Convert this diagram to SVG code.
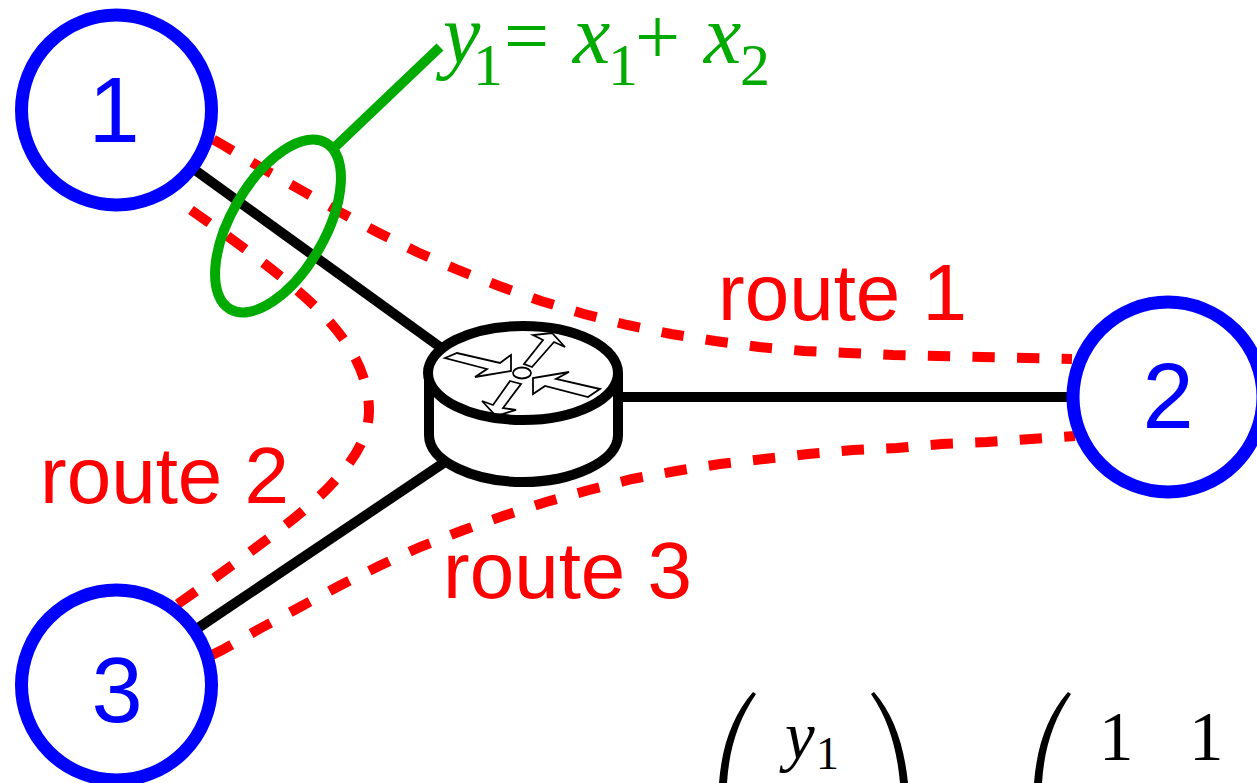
<svg xmlns="http://www.w3.org/2000/svg" width="1257" height="783" viewBox="0 0 1257 783">
<style>
.link{stroke:#000;stroke-width:10;fill:none}
.route{stroke:#f00;stroke-width:10;fill:none;stroke-dasharray:22.300 22.300}
.node{fill:#fff;stroke:#00f;stroke-width:13}
.num{font:92px "Liberation Sans",Arial,sans-serif;fill:#00f;text-anchor:middle}
.rl{font:80px "Liberation Sans",Arial,sans-serif;fill:#f00}
.gi{font:italic 84px "Liberation Serif","Times New Roman",serif;fill:#0a0}
.gs{font:60px "Liberation Serif","Times New Roman",serif;fill:#0a0}
.gm{font:80px "Liberation Serif","Times New Roman",serif;fill:#0a0}
.mi{font:italic 67px "Liberation Serif","Times New Roman",serif;fill:#000}
.ms{font:46px "Liberation Serif","Times New Roman",serif;fill:#000}
.mn{font:69px "Liberation Serif","Times New Roman",serif;fill:#000}
.arr{fill:#fff;stroke:#000;stroke-width:1.800}
</style>
<g id="connectors">
<path class="link" d="M195 170L440 347"/>
<path class="link" d="M620 397H1075"/>
<path class="link" d="M198 628L445 462"/>
<polyline class="route" points="213.500,139.700 223,145 260,167 299,189 338,211 377,232 417,252 458,270 499,286 541,301 584,314 627,325 671,334 715,341 759,347 804,351 848,353 893,355 938,356 982,357 1027,358 1072,359"/>
<path class="route" d="M191 210C235 241 275 270 306 298C338 327 369 365 369 411C369 440 350 465 328 488C300 517 240 560 175 606"/>
<polyline class="route" points="212,655 222,650 261,628 300,607 339,586 379,566 420,547 461,531 503,516 546,502 589,490 632,479 676,471 720,464 764,459 808,454 853,450 897,448 942,444 987,442 1031,439 1075,436"/>
</g>
<g id="router">
<path d="M429 373V435C429 462 475 482 523 482C571 482 618 462 618 435V373" fill="#fff" stroke="#000" stroke-width="10"/>
<ellipse cx="523" cy="373" rx="95" ry="47" fill="#fff"/>
<polygon class="arr" points="445,358 457,353 500,363 511,355 511,371 475,377 487,369"/>
<polygon class="arr" points="524,364 543,340 533,335 552,333 565,347 554,342 532,367"/>
<polygon class="arr" points="533,378 533,394 545,386 588,397 600,389 556,379 569,372"/>
<polygon class="arr" points="510,381 521,384 503,408 516,410 496,416 482,401 493,405"/>
<ellipse cx="522" cy="373" rx="9" ry="5.500" fill="#fff" stroke="#000" stroke-width="1.800"/>
<ellipse cx="523" cy="373" rx="95" ry="47" fill="none" stroke="#000" stroke-width="10"/>
</g>
<g id="node1"><circle class="node" cx="116.500" cy="110" r="95"/><text class="num" x="114" y="142">1</text></g>
<g id="node2"><circle class="node" cx="1168" cy="397" r="95"/><text class="num" x="1168" y="428">2</text></g>
<g id="node3"><circle class="node" cx="116.500" cy="685" r="95"/><text class="num" x="117" y="722">3</text></g>
<g id="monitor">
<path d="M335 147L440 47" stroke="#0a0" stroke-width="10" fill="none"/>
<ellipse cx="278" cy="226" rx="47" ry="96" transform="rotate(30 278 226)" fill="none" stroke="#0a0" stroke-width="10"/>
<text class="gi" x="443" y="63">y</text><text class="gs" x="473" y="85">1</text><text class="gm" x="504" y="63">=</text>
<text class="gi" x="573" y="63">x</text><text class="gs" x="608" y="85">1</text><text class="gm" x="635" y="64">+</text>
<text class="gi" x="704" y="63">x</text><text class="gs" x="740" y="85">2</text>
</g>
<text class="rl" x="718" y="320">route 1</text>
<text class="rl" x="40" y="503">route 2</text>
<text class="rl" x="443" y="598">route 3</text>
<g id="matrix">
<path d="M753 692C733 715 722 745 719 783H727C729 750 738 720 756 694Z"/>
<path d="M874 692C894 715 904 745 908 783H900C897 750 889 720 871 694Z"/>
<path d="M1068 692C1048 715 1037 745 1034 783H1042C1044 750 1053 720 1071 694Z"/>
<text class="mi" x="785" y="759">y</text><text class="ms" x="816" y="769">1</text>
<text class="mn" x="1099" y="760">1</text><text class="mn" x="1189" y="760">1</text>
</g>
</svg>
